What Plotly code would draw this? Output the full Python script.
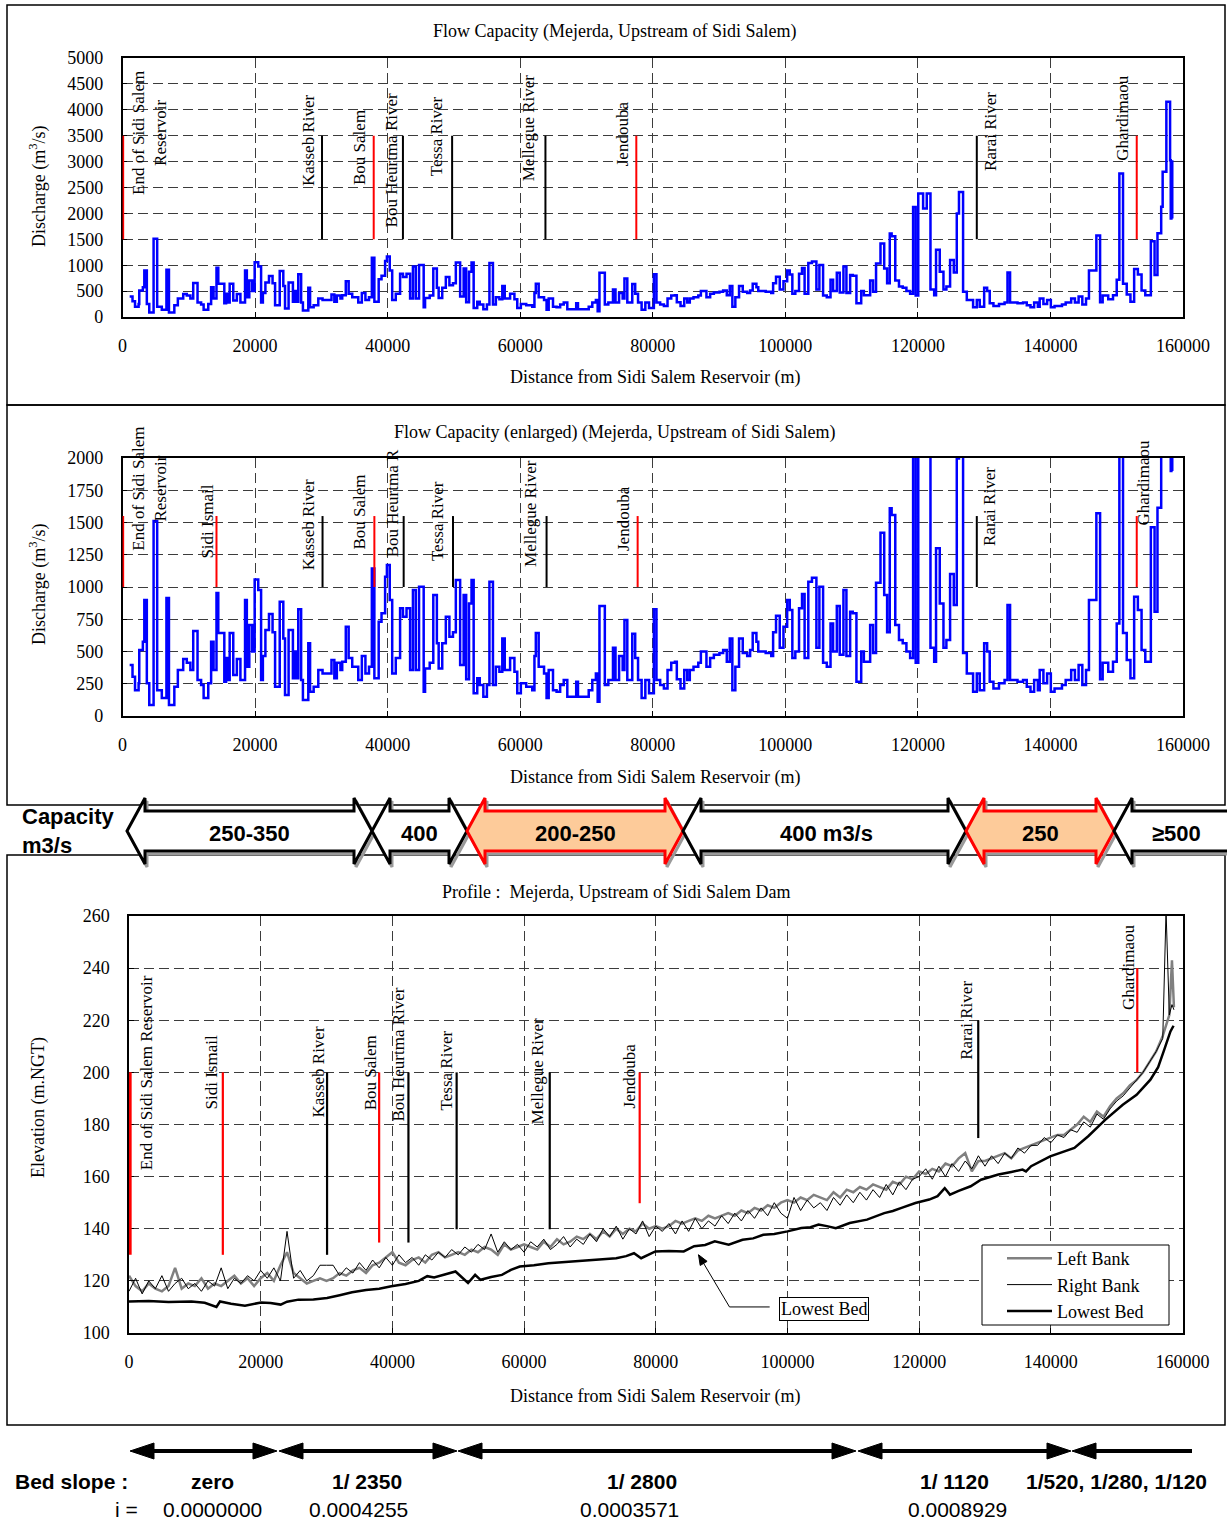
import math
import plotly.graph_objects as go

W, H = 1227, 1521
SERIF = "Liberation Serif, Times New Roman, serif"
SANS = "Liberation Sans, Arial, sans-serif"
RED = "#FF0000"
BLUE = "#0000FF"

# ---------------- DATA ----------------
# Flow capacity steps: (distance m, discharge m3/s)
flow_steps = [
    (1080, 395), (1510, 305), (1890, 200), (2430, 253), (2530, 511), (3070, 576), (3290, 899), (3670, 253),
    (4040, 85), (4690, 1511), (5230, 200), (5930, 139), (6630, 914), (7010, 85), (7820, 227), (8350, 356),
    (9160, 442), (9700, 413), (10240, 356), (10670, 658), (11320, 279), (11860, 240), (12240, 139), (12940, 253),
    (13370, 576), (13740, 356), (14180, 953), (14450, 643), (15360, 266), (15630, 450), (15900, 279), (16170, 643),
    (16710, 318), (17250, 442), (17790, 279), (18490, 899), (18760, 382), (19130, 705), (19570, 500), (19940, 1059),
    (20480, 977), (20910, 279), (21180, 465), (21560, 666), (22100, 790), (22640, 650), (23020, 227), (23720, 886),
    (24260, 600), (24520, 163), (25060, 666), (25710, 292), (26030, 500), (26250, 292), (26520, 827), (26950, 279),
    (27220, 124), (28030, 563), (28300, 188), (28840, 227), (29540, 356), (30180, 330), (31530, 434), (31960, 292),
    (32340, 413), (32880, 356), (33150, 421), (33690, 692), (34120, 450), (34660, 382), (35570, 279), (36110, 465),
    (36650, 330), (37190, 382), (37620, 1144), (38000, 292), (38650, 731), (39080, 796), (39620, 1080), (39890, 1170),
    (40320, 899), (40690, 330), (41230, 450), (41880, 835), (42310, 770), (42850, 835), (43390, 356), (43820, 977),
    (44250, 356), (44740, 1002), (45440, 188), (45650, 369), (46350, 413), (46890, 938), (47430, 563), (47700, 369),
    (48240, 563), (48780, 770), (49320, 614), (49860, 650), (50290, 1054), (50940, 395), (51470, 938), (51850, 285),
    (52280, 873), (52660, 1054), (52980, 176), (53520, 292), (53900, 240), (54440, 150), (54980, 240), (55360, 1041),
    (55890, 240), (56330, 382), (56860, 343), (57300, 600), (57670, 356), (58480, 450), (59130, 343), (59560, 176),
    (60100, 253), (60910, 227), (61820, 200), (62150, 465), (62360, 643), (62790, 382), (63600, 330), (63980, 139),
    (64300, 356), (64950, 200), (65490, 188), (66030, 240), (66570, 279), (67110, 150), (68450, 266), (68720, 150),
    (70340, 200), (70880, 279), (71420, 330), (71690, 111), (71960, 852), (72770, 240), (73300, 279), (74000, 530),
    (74380, 279), (74920, 465), (75460, 356), (75730, 744), (76160, 279), (76910, 637), (77350, 450), (77780, 279),
    (78320, 139), (78880, 279), (79440, 176), (80170, 827), (80560, 279), (81120, 240), (81680, 214), (82230, 356),
    (82790, 413), (83350, 421), (83630, 285), (84190, 214), (84750, 356), (85200, 279), (85590, 356), (86150, 382),
    (86870, 413), (87260, 500), (88100, 382), (88660, 450), (89220, 475), (90060, 488), (90620, 511), (91170, 421),
    (91620, 600), (92010, 200), (92460, 382), (93020, 600), (93580, 488), (94250, 465), (94690, 511), (95080, 643),
    (95640, 576), (95920, 500), (97040, 488), (97880, 465), (98160, 650), (98600, 778), (99160, 530), (99720, 692),
    (100280, 899), (100670, 822), (101060, 450), (101510, 500), (102070, 835), (102520, 946), (102910, 450), (103470, 1041),
    (104020, 1072), (104690, 530), (105140, 1002), (105700, 413), (106260, 382), (106820, 718), (107210, 500), (107770, 852),
    (108210, 475), (108770, 977), (109220, 465), (109780, 809), (110170, 796), (110730, 266), (111450, 500), (111850, 421),
    (112800, 705), (113240, 488), (113690, 1033), (114360, 1421), (114920, 938), (115360, 650), (115760, 1610), (116040, 1558),
    (116590, 705), (117150, 589), (117710, 563), (118270, 500), (118830, 450), (119280, 2125), (119670, 413), (120060, 2383),
    (120790, 2093), (121340, 2383), (121900, 530), (122460, 421), (122740, 1300), (123300, 873), (123860, 530), (124300, 589),
    (124860, 1100), (125420, 860), (125870, 1996), (126200, 2415), (126820, 488), (127380, 330), (128330, 188), (128890, 330),
    (129330, 200), (130000, 563), (130450, 500), (130840, 266), (131400, 214), (132240, 253), (133080, 279), (133520, 860),
    (133910, 279), (135030, 266), (135870, 279), (136430, 227), (136990, 188), (137540, 279), (138100, 200), (138380, 356),
    (138940, 253), (139500, 330), (140060, 188), (140620, 214), (141740, 240), (142300, 279), (143130, 356), (143690, 279),
    (144250, 395), (144810, 240), (145370, 356), (145810, 899), (146930, 1571), (147490, 285), (147880, 413), (148720, 343),
    (149440, 421), (150000, 718), (150400, 2769), (150950, 643), (151510, 434), (152070, 292), (152630, 925), (153190, 822),
    (153750, 511), (154310, 421), (155150, 1463), (155710, 809), (156150, 1615), (156710, 2129), (156930, 2805), (157490, 4154),
    (158050, 3027), (158150, 1900), (158250, 3000), (158380, 1900),
]
flow_dist = [d for d, q in flow_steps]
flow_q = [q for d, q in flow_steps]

# Longitudinal profile (survey stations every 1 km, plus the last cross-sections)
bank_dist = list(range(0, 158000, 1000)) + [157500, 158000, 158400, 158700]
left_bank = [
    122, 118, 116, 119, 117, 116, 118, 125, 117, 119,
    118, 121, 117, 119, 118, 120, 122, 119, 121, 118,
    121, 123, 120, 126, 131, 123, 121, 119, 120, 121,
    120, 121, 123, 122, 124, 125, 123, 126, 127, 129,
    131, 127, 126, 128, 129, 127, 130, 131, 129, 130,
    131, 130, 132, 131, 133, 132, 130, 134, 132, 133,
    134, 133, 132, 135, 133, 136, 134, 135, 137, 136,
    138, 136, 139, 137, 140, 138, 140, 139, 142, 140,
    141, 140, 141, 143, 142, 143, 144, 143, 145, 144,
    145, 146, 145, 147, 146, 148, 147, 149, 148, 150,
    151, 150, 152, 151, 153, 152, 151, 154, 152, 155,
    154, 156, 155, 157, 156, 155, 158, 157, 160, 159,
    162, 161, 163, 162, 165, 164, 167, 169, 162, 166,
    166, 167, 168, 169, 167, 170, 171, 172, 173, 174,
    175, 176, 176, 178, 180, 183, 181, 185, 183, 187,
    190, 192, 195, 197, 200, 204, 208, 214,
    218, 222, 243, 225,
]
right_bank = [
    116, 121, 115, 120, 117, 122, 116, 119, 121, 117,
    119, 116, 120, 118, 125, 117, 121, 119, 122, 120,
    124, 121, 125, 120, 139, 121, 124, 120, 122, 126,
    126, 126, 122, 125, 123, 127, 124, 128, 125, 129,
    126, 130, 127, 129, 126, 130, 128, 131, 129, 132,
    130, 133, 131, 134, 132, 138, 131, 135, 132, 134,
    131, 135, 133, 136, 132, 134, 137, 133, 136, 134,
    138, 135, 140, 137, 141, 136, 140, 138, 143, 137,
    141, 139, 142, 138, 143, 139, 144, 140, 143, 141,
    145, 142, 146, 143, 147, 144, 148, 145, 150, 146,
    144, 152, 147, 151, 148, 150, 147, 152, 149, 153,
    150, 154, 151, 155, 152, 157, 153, 158, 155, 159,
    160, 163, 159, 164, 160, 165, 162, 166, 163, 168,
    164, 168, 165, 169, 167, 171, 169, 172, 172, 175,
    173, 176, 175, 178, 177, 181, 179, 184, 182, 186,
    189, 191, 194, 197, 200, 204, 208, 213,
    262, 222, 226, 224,
]
bed_points = [
    (0, 112.1), (3000, 112.3), (6000, 111.9), (9480, 112.1), (11500, 111.6), (13280, 110.0), (13820, 112.1),
    (15500, 111.2), (17610, 110.5), (20050, 111.7), (21500, 111.5), (23040, 110.9), (24000, 112.0), (25740, 112.8),
    (28000, 112.9), (30080, 113.4), (32000, 114.5), (33880, 115.6), (36000, 116.5), (38000, 117.0), (39840, 117.9),
    (42000, 118.8), (44000, 120.0), (45300, 121.8), (46340, 121.3), (48000, 122.5), (49590, 123.6), (51490, 119.2),
    (52570, 122.3), (53390, 120.4), (55000, 121.5), (56640, 122.3), (58000, 124.2), (59350, 125.5), (61500, 126.0),
    (63690, 126.8), (66000, 127.2), (68000, 127.6), (70190, 128.1), (73990, 128.7), (75500, 129.5), (76700, 130.6),
    (77780, 128.7), (79950, 131.3), (82000, 131.5), (84250, 131.3), (85830, 133.3), (87500, 133.8), (88970, 135.2),
    (90000, 134.5), (91080, 133.9), (93180, 135.8), (94800, 136.3), (96330, 137.7), (98000, 138.0), (100000, 139.0),
    (102100, 140.3), (103500, 140.6), (104730, 141.6), (106000, 141.0), (107350, 140.2), (109450, 142.2), (112080, 143.5),
    (114700, 146.0), (116000, 146.8), (117330, 148.0), (119430, 149.9), (121530, 151.2), (122800, 152.5), (123890, 155.6),
    (124680, 153.1), (126000, 154.5), (127830, 156.3), (129400, 158.8), (132030, 160.8), (134000, 161.8), (135700, 162.7),
    (136230, 162.0), (137010, 164.0), (139900, 167.8), (141800, 169.5), (143580, 171.0), (145680, 175.5), (148300, 181.9),
    (150930, 187.6), (153030, 191.4), (155130, 197.2), (156300, 202.0), (157230, 208.7), (158170, 215.7), (158640, 217.9),
]
bed_dist = [d for d, z in bed_points]
bed_elev = [z for d, z in bed_points]

# Landmarks: (label, distance, colour, label_x, label_y)
top_marks = [
    ("End of Sidi Salem<br>Reservoir", 100, RED, 3980, 3550),
    ("Kasseb River", 30100, "black", 27950, 3413),
    ("Bou Salem", 37900, RED, 35750, 3272),
    ("Bou Heurtma River", 42310, "black", 40590, 3014),
    ("Tessa River", 49730, "black", 47310, 3490),
    ("Mellegue River", 63810, "black", 61290, 3658),
    ("Jendouba", 77520, RED, 75370, 3529),
    ("Rarai River", 128890, "black", 130840, 3587),
    ("Ghardimaou", 153020, RED, 150840, 3832),
]
mid_marks = [
    ("End of Sidi Salem<br>Reservoir", 100, RED, 4100, 1760),
    ("Sidi Ismail", 14180, RED, 12770, 1508),
    ("Kasseb River", 30180, "black", 28030, 1480),
    ("Bou Salem", 38000, RED, 35840, 1577),
    ("Bou Heurtma R", 42420, "black", 40690, 1650),
    ("Tessa River", 49860, "black", 47430, 1510),
    ("Mellegue River", 63980, "black", 61450, 1573),
    ("Jendouba", 77720, RED, 75570, 1530),
    ("Rarai River", 128890, "black", 130840, 1626),
    ("Ghardimaou", 153020, RED, 154030, 1806),
]
# (label, distance, colour, line bottom, line top, label_x, label_y)
bot_marks = [
    ("End of Sidi Salem Reservoir", 100, RED, 130, 200, 2710, 200),
    ("Sidi Ismail", 14250, RED, 130, 200, 12470, 200),
    ("Kasseb River", 30080, "black", 130, 200, 28730, 200),
    ("Bou Salem", 37990, RED, 134.7, 200, 36590, 200),
    ("Bou Heurtma River", 42440, "black", 134.7, 200, 40920, 207),
    ("Tessa River", 49760, "black", 139.8, 200, 48240, 200.6),
    ("Mellegue River", 63900, "black", 139.8, 200, 62060, 200.6),
    ("Jendouba", 77560, RED, 149.8, 200, 76040, 198.7),
    ("Rarai River", 128980, "black", 174.8, 220, 127200, 220),
    ("Ghardimaou", 153130, RED, 200, 240, 151710, 240.4),
]

cap_labels = ["250-350", "400", "200-250", "400 m3/s", "250", "\u2265500"]
cap_critical = [False, False, True, False, True, False]
slope_labels = ["zero", "1/ 2350", "1/ 2800", "1/ 1120", "1/520, 1/280, 1/120"]
slope_values = ["0.0000000", "0.0004255", "0.0003571", "0.0008929"]

# ---------------- LAYOUT HELPERS ----------------
def PX(x):
    return x / W

def PY(y):
    return 1 - y / H

def path(points):
    return "M " + " L ".join(f"{PX(x):.5f},{PY(y):.5f}" for x, y in points) + " Z"

BOT_X = (129, 1182.5)
BOT_Y = (1333, 916)
dom_top = dict(x=[PX(122.5), PX(1183)], y=[PY(317), PY(58)])
dom_mid = dict(x=[PX(122.5), PX(1183)], y=[PY(716), PY(458)])
dom_bot = dict(x=[PX(BOT_X[0]), PX(BOT_X[1])], y=[PY(BOT_Y[0]), PY(BOT_Y[1])])

def bot_to_px(d, e):
    return (BOT_X[0] + d / 160000 * (BOT_X[1] - BOT_X[0]),
            BOT_Y[0] - (e - 100) / 160 * (BOT_Y[0] - BOT_Y[1]))

tickfont = dict(family=SERIF, size=18, color="black")

def xstyle(dom, anchor):
    return dict(domain=dom, anchor=anchor, range=[0, 160000], dtick=20000, tick0=0, tickformat="d",
                showline=True, linecolor="black", linewidth=1.5, mirror=True,
                showgrid=True, gridcolor="#3c3c3c", gridwidth=1, griddash="10px,5px",
                zeroline=False, ticks="inside", ticklen=5, tickcolor="black",
                tickfont=tickfont, ticklabelstandoff=12)

def ystyle(dom, anchor, rng, dt):
    return dict(domain=dom, anchor=anchor, range=rng, dtick=dt, tick0=rng[0], tickformat="d",
                showline=True, linecolor="black", linewidth=1.5, mirror=True,
                showgrid=True, gridcolor="#3c3c3c", gridwidth=1, griddash="10px,5px",
                zeroline=False, ticks="inside", ticklen=5, tickcolor="black",
                tickfont=tickfont, ticklabelstandoff=14)

fig = go.Figure()

for xa, ya in [("x", "y"), ("x2", "y2")]:
    fig.add_trace(go.Scatter(x=flow_dist, y=flow_q, mode="lines", xaxis=xa, yaxis=ya,
                             line=dict(color=BLUE, width=2.5, shape="hv"),
                             showlegend=False, hoverinfo="skip"))

fig.add_trace(go.Scatter(x=bank_dist, y=left_bank, mode="lines", name="Left Bank", xaxis="x3", yaxis="y3",
                         line=dict(color="#808080", width=2.5), legendgroup="a"))
fig.add_trace(go.Scatter(x=bank_dist, y=right_bank, mode="lines", name="Right Bank", xaxis="x3", yaxis="y3",
                         line=dict(color="black", width=1), legendgroup="b"))
fig.add_trace(go.Scatter(x=bed_dist, y=bed_elev, mode="lines", name="Lowest Bed", xaxis="x3", yaxis="y3",
                         line=dict(color="black", width=2.5), legendgroup="c"))

shapes = []
annotations = []

labfont = dict(family=SERIF, size=17, color="black")

for lab, d, col, lx, ly in top_marks:
    shapes.append(dict(type="line", xref="x", yref="y", x0=d, x1=d, y0=1500, y1=3500,
                       line=dict(color=col, width=2)))
    annotations.append(dict(xref="x", yref="y", x=lx, y=ly, text=lab, textangle=-90, showarrow=False,
                            font=labfont, xanchor="center", yanchor="middle"))
for lab, d, col, lx, ly in mid_marks:
    shapes.append(dict(type="line", xref="x2", yref="y2", x0=d, x1=d, y0=1000, y1=1550,
                       line=dict(color=col, width=2)))
    annotations.append(dict(xref="x2", yref="y2", x=lx, y=ly, text=lab, textangle=-90, showarrow=False,
                            font=labfont, xanchor="center", yanchor="middle"))
for i, (lab, d, col, y0, y1, lx, ly) in enumerate(bot_marks):
    shapes.append(dict(type="line", xref="x3", yref="y3", x0=d, x1=d, y0=y0, y1=y1,
                       line=dict(color=col, width=4 if i == 0 else 2.2)))
    annotations.append(dict(xref="x3", yref="y3", x=lx, y=ly, text=lab, textangle=-90, showarrow=False,
                            font=labfont, xanchor="center", yanchor="middle"))

# Lowest bed callout: elbow leader line + arrowhead
tip, elbow, box_edge = (86500, 130), (91200, 110), (97300, 110)
shapes.append(dict(type="path", xref="x3", yref="y3",
                   path=f"M {box_edge[0]},{box_edge[1]} L {elbow[0]},{elbow[1]} L {tip[0]},{tip[1]}",
                   line=dict(color="black", width=1)))
tx, ty = bot_to_px(*tip)
ex, ey = bot_to_px(*elbow)
ln = math.hypot(tx - ex, ty - ey)
ux, uy = (tx - ex) / ln, (ty - ey) / ln
bx, by = tx - 10 * ux, ty - 10 * uy
shapes.append(dict(type="path", xref="paper", yref="paper",
                   path=path([(tx, ty), (bx - 4 * uy, by + 4 * ux), (bx + 4 * uy, by - 4 * ux)]),
                   line=dict(color="black", width=1), fillcolor="black"))
annotations.append(dict(xref="x3", yref="y3", x=105600, y=109.4, text="Lowest Bed", showarrow=False,
                        font=dict(family=SERIF, size=18, color="black"), bordercolor="black", borderwidth=1,
                        borderpad=1, bgcolor="white"))

# Legend frame (legend itself is drawn on top of it)
shapes.append(dict(type="rect", xref="paper", yref="paper", x0=PX(982), x1=PX(1169), y0=PY(1325), y1=PY(1245),
                   line=dict(color="black", width=1), fillcolor="white", layer="above"))

# Titles and axis titles
titlefont = dict(family=SERIF, size=18, color="black")
for txt, x, y in [("Flow Capacity (Mejerda, Upstream of Sidi Salem)", 614, 32),
                  ("Flow Capacity (enlarged) (Mejerda, Upstream of Sidi Salem)", 615, 432),
                  ("Profile :\u00a0 Mejerda, Upstream of Sidi Salem Dam", 616, 892),
                  ("Distance from Sidi Salem Reservoir (m)", 655, 377),
                  ("Distance from Sidi Salem Reservoir (m)", 655, 777),
                  ("Distance from Sidi Salem Reservoir (m)", 655, 1396)]:
    annotations.append(dict(xref="paper", yref="paper", x=PX(x), y=PY(y), text=txt, showarrow=False,
                            font=titlefont, xanchor="center", yanchor="middle"))
for txt, x, y in [("Discharge (m<sup>3</sup>/s)", 38, 187),
                  ("Discharge (m<sup>3</sup>/s)", 38, 585),
                  ("Elevation (m.NGT)", 38, 1108)]:
    annotations.append(dict(xref="paper", yref="paper", x=PX(x), y=PY(y), text=txt, showarrow=False,
                            textangle=-90, font=titlefont, xanchor="center", yanchor="middle"))

# Panel frames
for y0, y1 in [(5, 405), (405, 805), (855, 1425)]:
    shapes.append(dict(type="rect", xref="paper", yref="paper", x0=PX(7), x1=PX(1225), y0=PY(y1), y1=PY(y0),
                       line=dict(color="black", width=1.5), fillcolor="rgba(0,0,0,0)", layer="below"))

# Capacity band arrows
cap_tips = [127, 372, 467, 683, 966, 1114, 1240]
cap_text_x = [249, 419, 575, 826, 1040, 1176]
yc, h1, h2, hl = 831, 20, 33, 18
for i in range(len(cap_labels)):
    L, R = cap_tips[i], cap_tips[i + 1]
    if i == len(cap_labels) - 1:
        pts = [(L, yc), (L + hl, yc - h2), (L + hl, yc - h1), (R, yc - h1), (R, yc + h1),
               (L + hl, yc + h1), (L + hl, yc + h2)]
    else:
        pts = [(L, yc), (L + hl, yc - h2), (L + hl, yc - h1), (R - hl, yc - h1), (R - hl, yc - h2), (R, yc),
               (R - hl, yc + h2), (R - hl, yc + h1), (L + hl, yc + h1), (L + hl, yc + h2)]
    shadow = [(x + 2, y + 3) for x, y in pts]
    shapes.append(dict(type="path", xref="paper", yref="paper", path=path(shadow),
                       line=dict(color="#9a9a9a", width=3), fillcolor="rgba(0,0,0,0)"))
    crit = cap_critical[i]
    shapes.append(dict(type="path", xref="paper", yref="paper", path=path(pts),
                       line=dict(color=RED if crit else "black", width=3),
                       fillcolor="#FDCB9A" if crit else "white"))
    annotations.append(dict(xref="paper", yref="paper", x=PX(cap_text_x[i]), y=PY(833),
                            text=f"<b>{cap_labels[i]}</b>", showarrow=False,
                            font=dict(family=SANS, size=22, color="black"), xanchor="center", yanchor="middle"))
for txt, y in [("Capacity", 816), ("m3/s", 846)]:
    annotations.append(dict(xref="paper", yref="paper", x=PX(20), y=PY(y), text=f"<b>{txt}</b>",
                            showarrow=False, font=dict(family=SANS, size=22, color="black"),
                            xanchor="left", yanchor="middle"))

# Bed slope arrows
ys, ahl, ahh = 1451, 24, 8
slope_arrows = [(130, 277, True), (279, 457, True), (458, 856, True), (858, 1071, True), (1072, 1192, False)]
for L, R, right_head in slope_arrows:
    shapes.append(dict(type="line", xref="paper", yref="paper", x0=PX(L + 5), x1=PX(R - (5 if right_head else 0)),
                       y0=PY(ys), y1=PY(ys), line=dict(color="black", width=4)))
    shapes.append(dict(type="path", xref="paper", yref="paper",
                       path=path([(L, ys), (L + ahl, ys - ahh), (L + ahl, ys + ahh)]),
                       line=dict(color="black", width=1), fillcolor="black"))
    if right_head:
        shapes.append(dict(type="path", xref="paper", yref="paper",
                           path=path([(R, ys), (R - ahl, ys - ahh), (R - ahl, ys + ahh)]),
                           line=dict(color="black", width=1), fillcolor="black"))

slope_font_b = dict(family=SANS, size=21, color="black")
annotations.append(dict(xref="paper", yref="paper", x=PX(13), y=PY(1481), text="<b>Bed slope :</b>",
                        showarrow=False, font=slope_font_b, xanchor="left", yanchor="middle"))
for txt, x in zip(slope_labels, [212, 367, 642, 954, 1116]):
    annotations.append(dict(xref="paper", yref="paper", x=PX(x), y=PY(1481), text=f"<b>{txt}</b>",
                            showarrow=False, font=slope_font_b, xanchor="center", yanchor="middle"))
annotations.append(dict(xref="paper", yref="paper", x=PX(126), y=PY(1509), text="i =",
                        showarrow=False, font=dict(family=SANS, size=21, color="black"),
                        xanchor="center", yanchor="middle"))
for txt, x in zip(slope_values, [212, 358, 629, 957]):
    annotations.append(dict(xref="paper", yref="paper", x=PX(x), y=PY(1509), text=txt,
                            showarrow=False, font=dict(family=SANS, size=21, color="black"),
                            xanchor="center", yanchor="middle"))

fig.update_layout(
    width=W, height=H, margin=dict(l=0, r=0, t=0, b=0, autoexpand=False),
    paper_bgcolor="white", plot_bgcolor="white",
    xaxis=xstyle(dom_top["x"], "y"), yaxis=ystyle(dom_top["y"], "x", [0, 5000], 500),
    xaxis2=xstyle(dom_mid["x"], "y2"), yaxis2=ystyle(dom_mid["y"], "x2", [0, 2000], 250),
    xaxis3=xstyle(dom_bot["x"], "y3"), yaxis3=ystyle(dom_bot["y"], "x3", [100, 260], 20),
    shapes=shapes, annotations=annotations,
    showlegend=True,
    legend=dict(x=PX(1002), y=PY(1240), xanchor="left", yanchor="top", borderwidth=0,
                bgcolor="rgba(0,0,0,0)", font=dict(family=SERIF, size=18, color="black"),
                traceorder="grouped", tracegroupgap=0, itemwidth=45),
)

fig.write_html("out.html", config={"displayModeBar": False},
               post_script="document.body.style.margin='0';")
